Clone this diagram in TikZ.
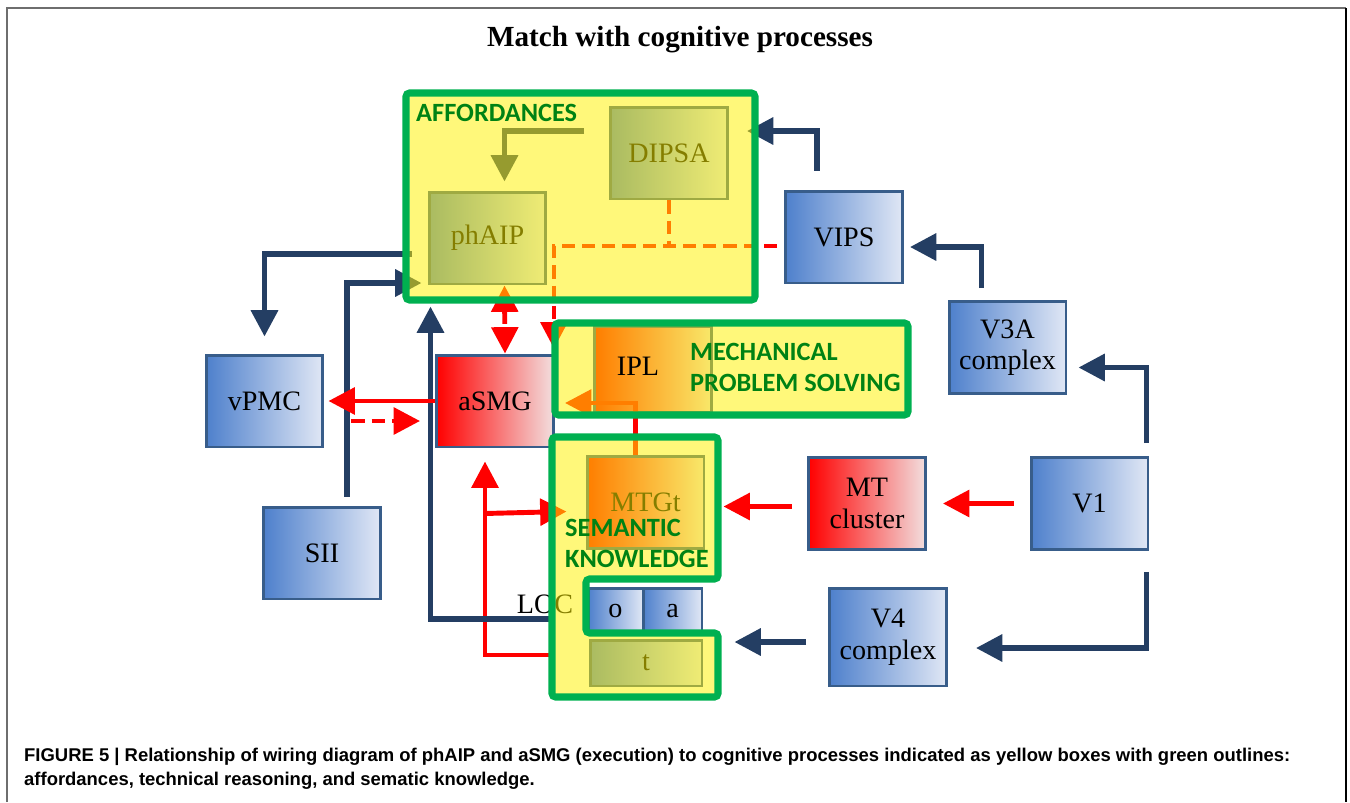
\documentclass[tikz,border=0pt]{standalone}
\usepackage{fontspec}
\setmainfont{Liberation Serif}
\newfontfamily\labelfont{Carlito}
\newfontfamily\capfont{Liberation Sans}
\usetikzlibrary{arrows.meta, calc}

\definecolor{navy}{RGB}{36,62,99}
\definecolor{boxline}{RGB}{56,93,138}
\definecolor{blueL}{RGB}{78,128,204}
\definecolor{blueR}{RGB}{224,231,245}
\definecolor{redL}{RGB}{255,0,0}
\definecolor{redR}{RGB}{242,222,222}
\definecolor{grn}{RGB}{0,176,80}
\definecolor{grntext}{RGB}{0,130,20}
\definecolor{framegray}{RGB}{110,110,110}

\tikzset{
  box/.style={draw=boxline, line width=1.7pt, minimum width=2.34cm, minimum height=1.84cm,
    inner sep=0pt, align=center, font=\fontsize{16}{18}\selectfont},
  bluebox/.style={box, left color=blueL, right color=blueR},
  redbox/.style={box, left color=redL, right color=redR},
  navyarr/.style={draw=navy, line width=3.1pt, -{Triangle[length=15pt,width=15pt]}},
  redarr/.style={draw=red, line width=2.8pt, -{Triangle[length=15pt,width=15pt]}},
  reddash/.style={redarr, dash pattern=on 7.5pt off 4pt},
  tint/.style={fill=yellow, fill opacity=0.52},
  greenline/.style={draw=grn, line width=4pt, rounded corners=2pt},
  grnlabel/.style={text=grntext, font=\labelfont\bfseries\fontsize{15}{17.6}\selectfont,
    align=left, anchor=west}
}

\begin{document}
\begin{tikzpicture}[x=0.02cm, y=-0.02cm]
    \useasboundingbox (0,0) rectangle (1350,802);
    % frame and title
    \draw[framegray, line width=1.2pt] (7,802) -- (7,8) -- (1346,8);
    \draw[black, line width=1.2pt] (1346,8) -- (1346,802);
    \node[font=\bfseries\fontsize{16.6}{20}\selectfont] (title) at (680,40) {Match with cognitive processes};

    % areas
    \node[bluebox] (DIPSA) at (669,153) {\raisebox{-4pt}{DIPSA}};
    \node[bluebox] (phAIP) at (487.5,238) {phAIP};
    \node[bluebox] (vPMC) at (264.5,401) {vPMC};
    \node[bluebox] (SII) at (322,553) {SII};
    \node[redbox] (aSMG) at (495,401) {aSMG};
    \node[redbox, minimum height=1.72cm] (IPL) at (653,369) {};
    \node[redbox] (MTGt) at (645.5,502.5) {MTGt};
    \node[redbox] (MT) at (867,503.5) {MT\\cluster};
    \node[bluebox] (V1) at (1089.5,503.5) {V1};
    \node[bluebox] (V3A) at (1007.5,347.5) {V3A\\complex};
    \node[bluebox] (VIPS) at (844,237) {VIPS};
    \node[bluebox, minimum height=1.96cm] (V4) at (888,637) {V4\\complex};
    % LOC
    \node[bluebox, minimum width=1.1cm, minimum height=0.92cm] (o) at (615.5,611) {o};
    \node[bluebox, minimum width=1.18cm, minimum height=0.92cm] (a) at (672.5,611) {a};
    \node[bluebox, minimum width=2.24cm, minimum height=0.92cm] (t) at (646,663) {t};
    \node[font=\fontsize{16}{18}\selectfont] (LOC) at (545,604) {LOC};

    % connections
    \draw[navyarr] ($(VIPS.north)+(-27,-19)$) |- ($(DIPSA.east)+(18,-22)$);
    \draw[navyarr] ($(V3A.north)+(-26,-12)$) |- ($(VIPS.east)+(6,10)$);
    \draw[navyarr] ($(V1.north)+(57,-13)$) |- ($(V3A.east)+(11,20)$);
    \draw[navyarr] ($(V1.south)+(57,21)$) |- ($(V4.east)+(28,11)$);
    \draw[navyarr] ($(V4.west)+(-22,5)$) -- ($(t.east)+(31,-21)$);
    \draw[redarr] ($(V1.west)+(-16,0)$) -- ($(MT.east)+(16,0)$);
    \draw[redarr] ($(MT.west)+(-15,3)$) -- ($(MTGt.east)+(18,4)$);
    \draw[redarr] ($(MTGt.north)+(-10,0)$) |- ($(aSMG.east)+(10,2)$);
    \draw[redarr] ($(t.west)+(-38,-8)$) -| ($(aSMG.south)+(-10,13)$);
    \draw[redarr] ($(aSMG.south)+(-10,65)$) -- ($(MTGt.west)+(-19,9)$);
    \draw[navyarr] ($(o.west)+(-36,8)$) -| ($(phAIP.south)+(-57,21)$);
    \draw[navyarr] ($(SII.north)+(25,-9)$) |- ($(phAIP.west)+(-6,45)$);
    \draw[navyarr] ($(phAIP.west)+(-16,16)$) -| ($(vPMC.north)+(0,-17)$);
    \draw[redarr] (aSMG.west) -- ($(vPMC.east)+(4,0)$);
    \draw[reddash] ($(vPMC.east)+(27,20)$) -- ($(aSMG.west)+(-15,20)$);
    \draw[reddash, {Triangle[length=15pt,width=15pt]}-{Triangle[length=15pt,width=15pt]}]
        ($(phAIP.south)+(17,0)$) -- ($(aSMG.north)+(10,0)$);
    \draw[reddash] ($(VIPS.west)+(-7,9)$) -| ($(aSMG.north east)+(-1,-5)$);
    \draw[reddash, -] (DIPSA.south) -- ($(DIPSA.south)+(0,47)$);
    \draw[navyarr] ($(DIPSA.west)+(-25,-22)$) -| ($(phAIP.north)+(17,-9)$);

    % cognitive processes
    \fill[tint] (406,93) rectangle (755,300);
    \fill[tint] (555,323) rectangle (908,415);
    \fill[tint] (552,437) -- (718,437) -- (718,579) -- (586,579) -- (586,633)
        -- (718,633) -- (718,697) -- (552,697) -- cycle;
    \draw[greenline] (406,93) rectangle (755,300);
    \draw[greenline] (555,323) rectangle (908,415);
    \draw[greenline] (552,437) -- (718,437) -- (718,579) -- (586,579) -- (586,633)
        -- (718,633) -- (718,697) -- (552,697) -- cycle;
    \node[font=\fontsize{16}{18}\selectfont] (ipllabel) at (638,366) {IPL};
    \node[grnlabel] (afflabel) at (410,113) {AFFORDANCES};
    \node[grnlabel] (mechlabel) at (684,367) {MECHANICAL\\PROBLEM SOLVING};
    \node[grnlabel] (semlabel) at (559,543) {SEMANTIC\\KNOWLEDGE};

    % caption
    \node[anchor=west, align=left, font=\capfont\bfseries\fontsize{10.5}{13.6}\selectfont] (caption) at (18,769)
        {FIGURE 5 | Relationship of wiring diagram of phAIP and aSMG (execution) to cognitive processes indicated as yellow boxes with green outlines:\\
         affordances, technical reasoning, and sematic knowledge.};
\end{tikzpicture}
\end{document}
